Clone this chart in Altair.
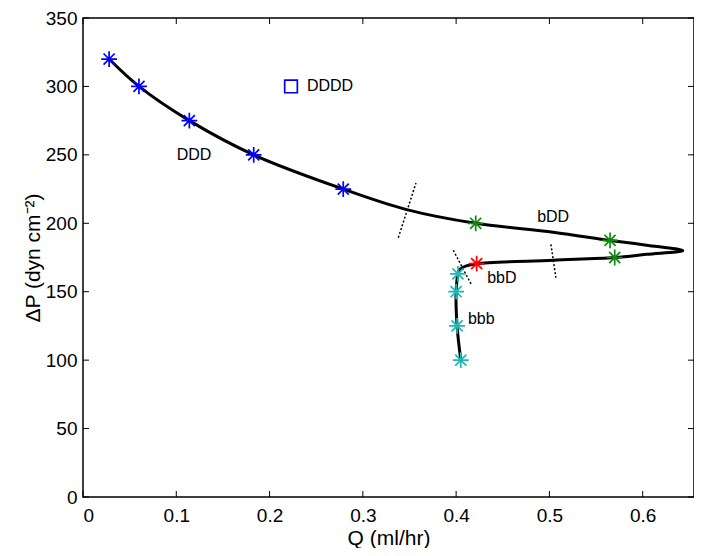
import altair as alt
import pandas as pd

# ---- data ----
curve_q = [0.028, 0.060, 0.114, 0.183, 0.279, 0.347, 0.421, 0.504, 0.565, 0.604, 0.643,
           0.604, 0.570, 0.504, 0.422, 0.411, 0.404, 0.402, 0.400, 0.401, 0.405]
curve_p = [320, 300, 275, 250, 225, 210, 200, 193.5, 187.5, 184, 180,
           177.3, 175, 173, 170.5, 168.9, 166.4, 163, 150, 125, 100]

blue_q = [0.028, 0.060, 0.114, 0.183, 0.279]
blue_p = [320, 300, 275, 250, 225]
green_q = [0.421, 0.565, 0.570]
green_p = [200, 187.5, 175]
red_q = [0.422]
red_p = [170.5]
cyan_q = [0.402, 0.400, 0.401, 0.405]
cyan_p = [163, 150, 125, 100]

square_q = [0.223]
square_p = [300]

label_text = ["DDDD", "DDD", "bDD", "bbD", "bbb"]
label_q = [0.240, 0.119, 0.504, 0.449, 0.427]
label_p = [300, 250, 204.5, 160.3, 130]
label_align = ["left", "center", "center", "center", "center"]

# dotted boundary segments (start/end)
seg_id = ["s1", "s1", "s2", "s2", "s3", "s3"]
seg_q = [0.357, 0.338, 0.5016, 0.507, 0.397, 0.4165]
seg_p = [229.5, 189.5, 184.6, 160.3, 180.3, 155]

x_ticks = [0, 0.1, 0.2, 0.3, 0.4, 0.5, 0.6]
y_ticks = [0, 50, 100, 150, 200, 250, 300, 350]

X_DOMAIN = [0, 0.655]
Y_DOMAIN = [0, 350]
W, H = 611, 479
FONT = "Liberation Sans"

# ---- frames ----
curve_df = pd.DataFrame({"q": curve_q, "p": curve_p, "o": list(range(len(curve_q)))})
stars_df = pd.DataFrame({
    "q": blue_q + green_q + red_q + cyan_q,
    "p": blue_p + green_p + red_p + cyan_p,
    "c": ["#0000ff"] * len(blue_q) + ["#0f8a0f"] * len(green_q)
         + ["#ff0000"] * len(red_q) + ["#1cb8b8"] * len(cyan_q),
})
square_df = pd.DataFrame({"q": square_q, "p": square_p})
label_df = pd.DataFrame({"t": label_text, "q": label_q, "p": label_p, "a": label_align})
seg_df = pd.DataFrame({"id": seg_id, "q": seg_q, "p": seg_p})
xt_df = pd.DataFrame({"q": x_ticks})
yt_df = pd.DataFrame({"p": y_ticks})

xs = alt.Scale(domain=X_DOMAIN, nice=False, zero=False)
ys = alt.Scale(domain=Y_DOMAIN, nice=False, zero=False)

x_axis = alt.Axis(
    values=x_ticks, title="Q (ml/hr)", tickSize=0, domain=False, grid=False,
    labelFontSize=19, titleFontSize=21, labelPadding=9, titlePadding=2,
    labelFont=FONT, titleFont=FONT, titleFontWeight="normal",
    labelColor="black", titleColor="black", format="~g")
y_axis = alt.Axis(
    values=y_ticks, title="ΔP (dyn cm⁻²)", tickSize=0, domain=False, grid=False,
    labelFontSize=19, titleFontSize=21, labelPadding=6, titlePadding=2,
    labelFont=FONT, titleFont=FONT, titleFontWeight="normal",
    labelColor="black", titleColor="black")

X = alt.X("q:Q", scale=xs, axis=x_axis)
Y = alt.Y("p:Q", scale=ys, axis=y_axis)

STAR = "M-1,0L1,0M0,-1L0,1M-0.7,-0.7L0.7,0.7M-0.7,0.7L0.7,-0.7"

curve = alt.Chart(curve_df).mark_line(color="black", strokeWidth=3, interpolate="catmull-rom").encode(
    x=X, y=Y, order="o:Q")

segs = alt.Chart(seg_df).mark_line(color="black", strokeWidth=1.5, strokeDash=[2, 2]).encode(
    x=X, y=Y, detail="id:N")

stars = alt.Chart(stars_df).mark_point(shape=STAR, size=250, filled=False, strokeWidth=1.7, opacity=1).encode(
    x=X, y=Y, color=alt.Color("c:N", scale=None))

square = alt.Chart(square_df).mark_point(shape="square", size=160, filled=False, color="#0000ff",
                                         strokeWidth=1.7, opacity=1).encode(x=X, y=Y)

labels_left = alt.Chart(label_df[label_df.a == "left"]).mark_text(
    align="left", baseline="middle", fontSize=16, font=FONT, color="black").encode(
    x=X, y=Y, text="t:N")
labels_center = alt.Chart(label_df[label_df.a == "center"]).mark_text(
    align="center", baseline="middle", fontSize=16, font=FONT, color="black").encode(
    x=X, y=Y, text="t:N")

TL = 6
xt_bottom = alt.Chart(xt_df).mark_rule(color="black", strokeWidth=1).encode(
    x=X, y=alt.value(H), y2=alt.value(H - TL))
xt_top = alt.Chart(xt_df).mark_rule(color="black", strokeWidth=1).encode(
    x=X, y=alt.value(0), y2=alt.value(TL))
yt_left = alt.Chart(yt_df).mark_rule(color="black", strokeWidth=1).encode(
    y=Y, x=alt.value(0), x2=alt.value(TL))
yt_right = alt.Chart(yt_df).mark_rule(color="black", strokeWidth=1).encode(
    y=Y, x=alt.value(W), x2=alt.value(W - TL))

chart = alt.layer(
    curve, segs, xt_bottom, xt_top, yt_left, yt_right, stars, square, labels_left, labels_center
).properties(
    width=W, height=H,
    autosize=alt.AutoSizeParams(type="none"),
    padding={"left": 75, "top": 10, "right": 0, "bottom": 51},
    background="white",
).configure_view(stroke="black", strokeWidth=1.5)

chart.save("out.html", embed_options={"renderer": "svg", "actions": False})
